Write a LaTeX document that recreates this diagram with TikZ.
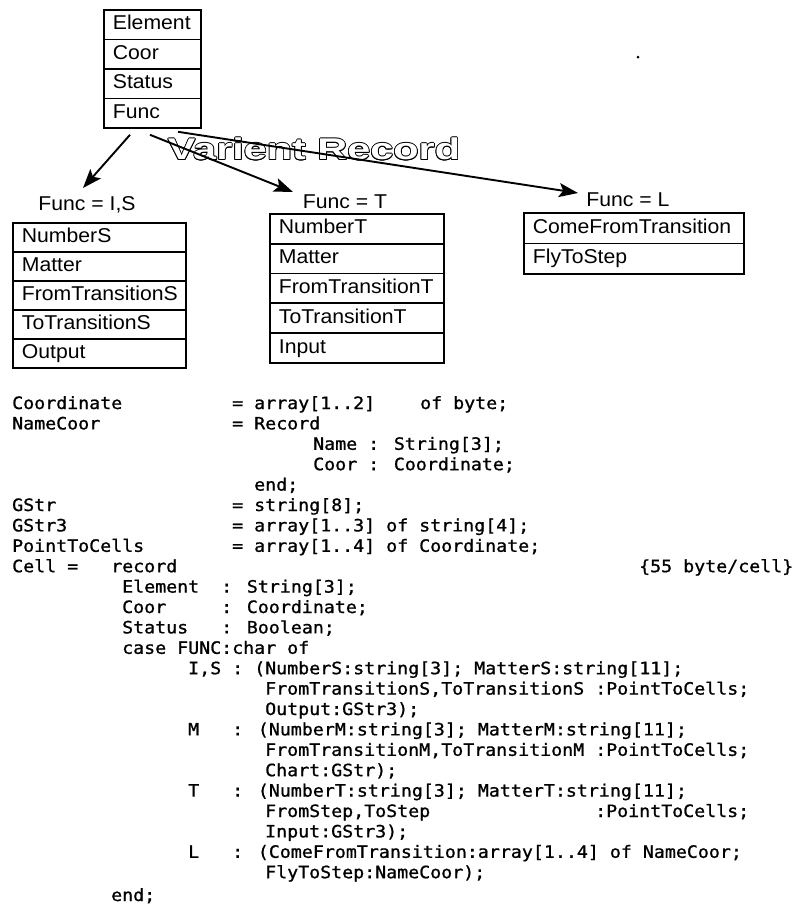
\documentclass[tikz,border=0pt]{standalone}
\usepackage{fontspec}
\setmainfont{Liberation Sans}
\newfontfamily\boxfont[FakeStretch=1.06]{Liberation Sans}
\newfontfamily\codefont[FakeStretch=1.075,FakeBold=1]{DejaVu Sans Mono}
\newfontfamily\vrfont[FakeStretch=1.38]{Liberation Sans Bold}
\usetikzlibrary{arrows.meta,calc}
\newcommand\putcode[4]{\node[code] (#1) at (#2,{409+20.4*#3}) {#4};}
\begin{document}
\begin{tikzpicture}[x=1pt,y=-1pt,
  cellbox/.style={draw, line width=1.8pt, inner xsep=9pt, inner ysep=0pt, anchor=north west,
    font=\boxfont\fontsize{20}{24}\selectfont, text height=14pt, text depth=4pt, align=left},
  funclabel/.style={font=\boxfont\fontsize{20}{24}\selectfont, inner sep=0pt},
  code/.style={font=\codefont\fontsize{17}{20}\selectfont, anchor=base west, inner sep=0pt},
  varrow/.style={line width=1.9pt, -{Stealth[length=19pt,width=14pt,inset=4pt]}},
  vrtext/.style={font=\vrfont\fontsize{30}{34}\selectfont, inner sep=0pt},
]
\fill[white] (0,0) rectangle (800,906);
\useasboundingbox (0,0) rectangle (800,906);

% top record
\node[cellbox, text width=79pt, minimum height=29.5pt] (fe) at (103,9) {Element};
\node[cellbox, text width=79pt, minimum height=29.5pt] (fc) at (103,38.5) {Coor};
\node[cellbox, text width=79pt, minimum height=29.5pt] (fs) at (103,68) {Status};
\node[cellbox, text width=79pt, minimum height=29.5pt] (fn) at (103,97.5) {Func};

% Func = I,S
\node[funclabel] (lblIS) at (87,205) {Func = I,S};
\node[cellbox, text width=155pt, minimum height=29pt] (s1n) at (12,222) {NumberS};
\node[cellbox, text width=155pt, minimum height=29pt] (s2n) at (12,251) {Matter};
\node[cellbox, text width=155pt, minimum height=29pt] (s3n) at (12,280) {FromTransitionS};
\node[cellbox, text width=155pt, minimum height=29pt] (s4n) at (12,309) {ToTransitionS};
\node[cellbox, text width=155pt, minimum height=29pt] (s5n) at (12,338) {Output};

% Func = T
\node[funclabel] (lblT) at (345,202) {Func = T};
\node[cellbox, text width=156pt, minimum height=29.8pt] (t1n) at (269,213) {NumberT};
\node[cellbox, text width=156pt, minimum height=29.8pt] (t2n) at (269,242.8) {Matter};
\node[cellbox, text width=156pt, minimum height=29.8pt] (t3n) at (269,272.6) {FromTransitionT};
\node[cellbox, text width=156pt, minimum height=29.8pt] (t4n) at (269,302.4) {ToTransitionT};
\node[cellbox, text width=156pt, minimum height=29.8pt] (t5n) at (269,332.2) {Input};

% Func = L
\node[funclabel] (lblL) at (628,200) {Func = L};
\node[cellbox, text width=202pt, minimum height=30.5pt] (l1n) at (523,212) {ComeFromTransition};
\node[cellbox, text width=202pt, minimum height=30.5pt] (l2n) at (523,242.5) {FlyToStep};

% outlined title
\foreach \a in {0,30,...,330}{
  \node[vrtext, text=black] (vro\a) at ($(314,149)+(\a:0.8)$) {Varient Record};
}
\node[vrtext, text=white] (vr) at (314,149) {Varient Record};

% arrows
\coordinate (a1s) at ($(fn.south west)+(27,6)$);
\coordinate (a2s) at ($(fn.south west)+(47,6)$);
\coordinate (a3s) at ($(fn.south west)+(75,3)$);
\coordinate (a1t) at ($(lblIS)+(-4,-17)$);
\coordinate (a2t) at ($(lblT)+(-52,-10)$);
\coordinate (a3t) at ($(lblL)+(-50,-7)$);
\draw[varrow] (a1s) -- (a1t);
\draw[varrow] (a2s) -- (a2t);
\draw[varrow] (a3s) -- (a3t);

% stray dot
\fill (638,57) circle (1.5);

% code
\putcode{c0a}{12}{0}{Coordinate}
\putcode{c0b}{232}{0}{= array[1..2]}
\putcode{c0c}{420}{0}{of byte;}
\putcode{c1a}{12}{1}{NameCoor}
\putcode{c1b}{232}{1}{= Record}
\putcode{c2}{313}{2}{Name : String[3];}
\putcode{c3}{313}{3}{Coor : Coordinate;}
\putcode{c4}{254}{4}{end;}
\putcode{c5a}{12}{5}{GStr}
\putcode{c5b}{232}{5}{= string[8];}
\putcode{c6a}{12}{6}{GStr3}
\putcode{c6b}{232}{6}{= array[1..3] of string[4];}
\putcode{c7a}{12}{7}{PointToCells}
\putcode{c7b}{232}{7}{= array[1..4] of Coordinate;}
\putcode{c8a}{12}{8}{Cell =}
\putcode{c8b}{111}{8}{record}
\putcode{c8c}{639}{8}{\{55 byte/cell\}}
\putcode{c9a}{122}{9}{Element}
\putcode{c9b}{221}{9}{: String[3];}
\putcode{c10a}{122}{10}{Coor}
\putcode{c10b}{221}{10}{: Coordinate;}
\putcode{c11a}{122}{11}{Status}
\putcode{c11b}{221}{11}{: Boolean;}
\putcode{c12}{122}{12}{case FUNC:char of}
\putcode{c13}{188}{13}{I,S : (NumberS:string[3]; MatterS:string[11];}
\putcode{c14}{265}{14}{FromTransitionS,ToTransitionS :PointToCells;}
\putcode{c15}{265}{15}{Output:GStr3);}
\putcode{c16a}{188}{16}{M}
\putcode{c16b}{232}{16}{: (NumberM:string[3]; MatterM:string[11];}
\putcode{c17}{265}{17}{FromTransitionM,ToTransitionM :PointToCells;}
\putcode{c18}{265}{18}{Chart:GStr);}
\putcode{c19a}{188}{19}{T}
\putcode{c19b}{232}{19}{: (NumberT:string[3]; MatterT:string[11];}
\putcode{c20a}{265}{20}{FromStep,ToStep}
\putcode{c20b}{595}{20}{:PointToCells;}
\putcode{c21}{265}{21}{Input:GStr3);}
\putcode{c22a}{188}{22}{L}
\putcode{c22b}{232}{22}{: (ComeFromTransition:array[1..4] of NameCoor;}
\putcode{c23}{265}{23}{FlyToStep:NameCoor);}
\node[code] (c24) at (111,901) {end;};
\end{tikzpicture}
\end{document}
